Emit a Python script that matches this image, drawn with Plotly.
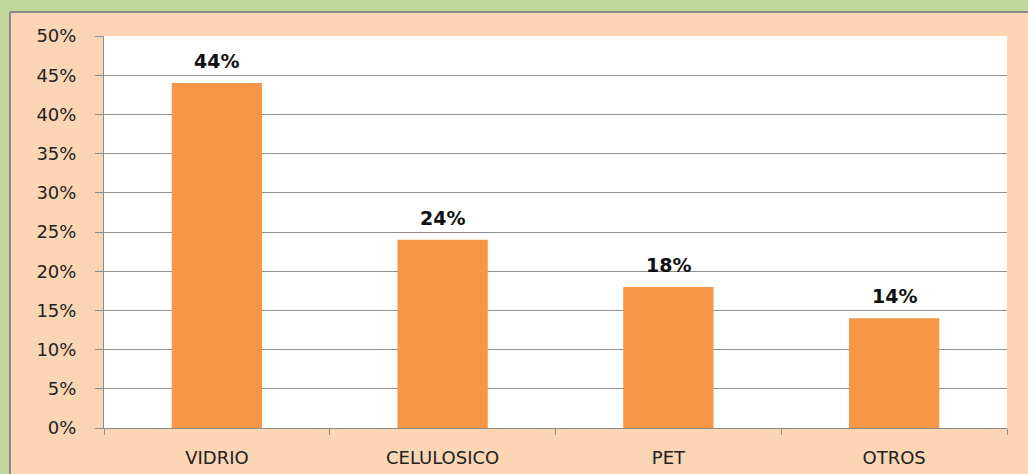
import plotly.graph_objects as go

categories = ["VIDRIO", "CELULOSICO", "PET", "OTROS"]
values = [0.44, 0.24, 0.18, 0.14]
labels = ["44%", "24%", "18%", "14%"]

W, H = 1028, 474
L, R, T, B = 104, 21, 36, 46
pw, ph = W - L - R, H - T - B

def px_x(p):
    return (p - L) / pw

def px_y(p):
    return (H - B - p) / ph

fig = go.Figure()
fig.add_trace(go.Bar(
    x=categories, y=values,
    marker=dict(color="#F79646", line=dict(width=0)),
    width=0.4,
    hoverinfo="skip",
))

for c, v, t in zip(categories, values, labels):
    fig.add_annotation(x=c, y=v, text="<b>%s</b>" % t, showarrow=False,
                       yanchor="bottom", yshift=9,
                       font=dict(family="DejaVu Sans", size=19, color="#111111"))

grn = "#C3D69B"
gray = "#8A8A8A"
fig.add_shape(type="rect", xref="paper", yref="paper",
              x0=-0.3, x1=1.3, y0=px_y(12), y1=1.3,
              fillcolor=grn, line=dict(width=0), layer="below")
fig.add_shape(type="rect", xref="paper", yref="paper",
              x0=-0.3, x1=px_x(10), y0=-0.3, y1=1.3,
              fillcolor=grn, line=dict(width=0), layer="below")
fig.add_shape(type="line", xref="paper", yref="paper",
              x0=px_x(10), x1=1.3, y0=px_y(12), y1=px_y(12),
              line=dict(color=gray, width=2))
fig.add_shape(type="line", xref="paper", yref="paper",
              x0=px_x(10), x1=px_x(10), y0=px_y(12), y1=-0.3,
              line=dict(color=gray, width=2))

fig.update_layout(
    width=W, height=H,
    margin=dict(l=L, r=R, t=T, b=B, autoexpand=False),
    paper_bgcolor="#FCD5B5",
    plot_bgcolor="#FFFFFF",
    showlegend=False,
    bargap=0.6,
    font=dict(family="DejaVu Sans", size=18, color="#222222"),
)
fig.update_xaxes(
    automargin=False,
    showgrid=False, showline=True, linecolor="#8C8C8C", linewidth=1,
    ticks="outside", tickson="boundaries", ticklen=6, tickcolor="#8C8C8C",
    ticklabelstandoff=13, tickfont=dict(family="DejaVu Sans", size=18, color="#222222"),
)
fig.update_yaxes(
    automargin=False,
    range=[0, 0.5], dtick=0.05, tickformat=".0%",
    showgrid=True, gridcolor="#8E8E8E", gridwidth=1,
    showline=True, linecolor="#8C8C8C", linewidth=1,
    ticks="outside", ticklen=8, tickcolor="#8C8C8C",
    ticklabelstandoff=15, zeroline=False,
    tickfont=dict(family="DejaVu Sans", size=18, color="#222222"),
)

fig.write_html(
    "out.html",
    config={"displayModeBar": False},
    post_script="document.body.style.margin='0';document.body.style.overflow='hidden';"
                "document.body.style.background='#FCD5B5';",
)
